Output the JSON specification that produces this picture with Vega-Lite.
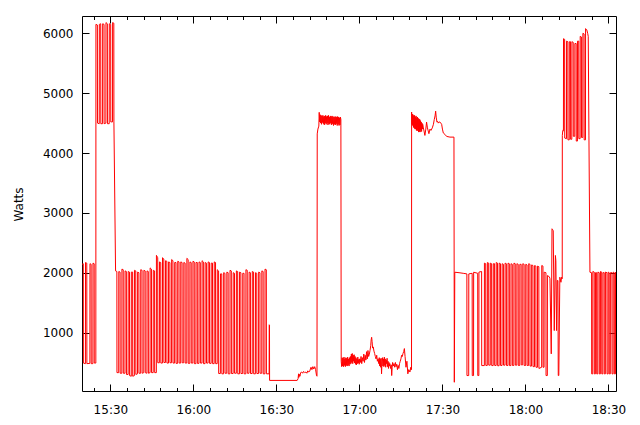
{
"$schema": "https://vega.github.io/schema/vega-lite/v6.json",
"width": 534,
"height": 375,
"autosize": {"type": "none"},
"padding": {"left": 82, "top": 16, "right": 24, "bottom": 34},
"background": "white",
"config": {
  "view": {"stroke": "black", "strokeWidth": 1},
  "axis": {"labelFont": "DejaVu Sans", "labelFontSize": 12, "labelColor": "black", "domain": false, "grid": false, "tickColor": "black", "tickWidth": 1, "titleFont": "DejaVu Sans", "titleFontSize": 12, "titleFontWeight": "normal", "titleColor": "black"}
},
"data": {"values": [
{"t":"2000-01-01T15:19:45Z","w":2140},{"t":"2000-01-01T15:20:12Z","w":2150},{"t":"2000-01-01T15:20:14Z","w":490},{"t":"2000-01-01T15:20:58Z","w":480},{"t":"2000-01-01T15:21:00Z","w":2170},{"t":"2000-01-01T15:21:28Z","w":2160},{"t":"2000-01-01T15:21:30Z","w":480},{"t":"2000-01-01T15:22:35Z","w":485},{"t":"2000-01-01T15:22:37Z","w":2150},{"t":"2000-01-01T15:23:02Z","w":2140},{"t":"2000-01-01T15:23:04Z","w":480},{"t":"2000-01-01T15:23:40Z","w":480},{"t":"2000-01-01T15:23:42Z","w":2160},{"t":"2000-01-01T15:24:08Z","w":2150},{"t":"2000-01-01T15:24:10Z","w":490},{"t":"2000-01-01T15:24:44Z","w":490},
{"t":"2000-01-01T15:24:46Z","w":6150},{"t":"2000-01-01T15:25:18Z","w":6140},{"t":"2000-01-01T15:25:20Z","w":4500},{"t":"2000-01-01T15:25:58Z","w":4490},{"t":"2000-01-01T15:26:00Z","w":6150},{"t":"2000-01-01T15:26:30Z","w":6160},{"t":"2000-01-01T15:26:32Z","w":4490},{"t":"2000-01-01T15:27:10Z","w":4490},{"t":"2000-01-01T15:27:12Z","w":6160},{"t":"2000-01-01T15:27:42Z","w":6150},{"t":"2000-01-01T15:27:44Z","w":4490},{"t":"2000-01-01T15:28:22Z","w":4500},{"t":"2000-01-01T15:28:24Z","w":6180},{"t":"2000-01-01T15:28:54Z","w":6160},{"t":"2000-01-01T15:28:56Z","w":4490},{"t":"2000-01-01T15:29:34Z","w":4490},{"t":"2000-01-01T15:29:36Z","w":6160},{"t":"2000-01-01T15:30:06Z","w":6150},{"t":"2000-01-01T15:30:08Z","w":4520},{"t":"2000-01-01T15:30:46Z","w":4520},{"t":"2000-01-01T15:30:48Z","w":6180},{"t":"2000-01-01T15:31:14Z","w":6170},{"t":"2000-01-01T15:31:16Z","w":4520},{"t":"2000-01-01T15:31:52Z","w":2030},
{"t":"2000-01-01T15:32:20Z","w":2020},{"t":"2000-01-01T15:32:22Z","w":330},{"t":"2000-01-01T15:33:00Z","w":330},{"t":"2000-01-01T15:33:02Z","w":2020},{"t":"2000-01-01T15:33:30Z","w":2010},{"t":"2000-01-01T15:33:32Z","w":320},{"t":"2000-01-01T15:34:08Z","w":320},{"t":"2000-01-01T15:34:10Z","w":2060},{"t":"2000-01-01T15:34:38Z","w":2050},{"t":"2000-01-01T15:34:40Z","w":320},{"t":"2000-01-01T15:35:16Z","w":320},{"t":"2000-01-01T15:35:18Z","w":2030},{"t":"2000-01-01T15:35:46Z","w":2020},{"t":"2000-01-01T15:35:48Z","w":300},{"t":"2000-01-01T15:36:24Z","w":300},{"t":"2000-01-01T15:36:26Z","w":2020},{"t":"2000-01-01T15:36:54Z","w":2010},{"t":"2000-01-01T15:36:56Z","w":280},{"t":"2000-01-01T15:37:32Z","w":270},{"t":"2000-01-01T15:37:34Z","w":2010},{"t":"2000-01-01T15:38:02Z","w":2010},{"t":"2000-01-01T15:38:04Z","w":270},{"t":"2000-01-01T15:38:40Z","w":280},{"t":"2000-01-01T15:38:42Z","w":2040},{"t":"2000-01-01T15:39:10Z","w":2030},{"t":"2000-01-01T15:39:12Z","w":300},{"t":"2000-01-01T15:39:48Z","w":310},{"t":"2000-01-01T15:39:50Z","w":2010},{"t":"2000-01-01T15:40:18Z","w":2000},{"t":"2000-01-01T15:40:20Z","w":320},{"t":"2000-01-01T15:40:56Z","w":320},{"t":"2000-01-01T15:40:58Z","w":2050},{"t":"2000-01-01T15:41:26Z","w":2040},{"t":"2000-01-01T15:41:28Z","w":320},{"t":"2000-01-01T15:42:04Z","w":330},{"t":"2000-01-01T15:42:06Z","w":2040},{"t":"2000-01-01T15:42:34Z","w":2030},{"t":"2000-01-01T15:42:36Z","w":330},{"t":"2000-01-01T15:43:12Z","w":320},{"t":"2000-01-01T15:43:14Z","w":2030},{"t":"2000-01-01T15:43:42Z","w":2020},{"t":"2000-01-01T15:43:44Z","w":320},{"t":"2000-01-01T15:44:20Z","w":330},{"t":"2000-01-01T15:44:22Z","w":2080},{"t":"2000-01-01T15:44:50Z","w":2060},{"t":"2000-01-01T15:44:52Z","w":330},{"t":"2000-01-01T15:45:28Z","w":330},{"t":"2000-01-01T15:45:30Z","w":2040},{"t":"2000-01-01T15:45:58Z","w":2030},{"t":"2000-01-01T15:46:00Z","w":330},{"t":"2000-01-01T15:46:36Z","w":330},
{"t":"2000-01-01T15:46:38Z","w":2290},{"t":"2000-01-01T15:47:06Z","w":2250},{"t":"2000-01-01T15:47:08Z","w":495},{"t":"2000-01-01T15:47:42Z","w":495},{"t":"2000-01-01T15:47:44Z","w":2180},{"t":"2000-01-01T15:48:12Z","w":2170},{"t":"2000-01-01T15:48:14Z","w":490},{"t":"2000-01-01T15:48:48Z","w":490},{"t":"2000-01-01T15:48:50Z","w":2250},{"t":"2000-01-01T15:49:18Z","w":2230},{"t":"2000-01-01T15:49:20Z","w":500},{"t":"2000-01-01T15:49:54Z","w":500},{"t":"2000-01-01T15:49:56Z","w":2200},{"t":"2000-01-01T15:50:24Z","w":2190},{"t":"2000-01-01T15:50:26Z","w":490},{"t":"2000-01-01T15:51:00Z","w":490},{"t":"2000-01-01T15:51:02Z","w":2180},{"t":"2000-01-01T15:51:30Z","w":2170},{"t":"2000-01-01T15:51:32Z","w":495},{"t":"2000-01-01T15:52:06Z","w":495},{"t":"2000-01-01T15:52:08Z","w":2220},{"t":"2000-01-01T15:52:36Z","w":2200},{"t":"2000-01-01T15:52:38Z","w":490},{"t":"2000-01-01T15:53:12Z","w":490},{"t":"2000-01-01T15:53:14Z","w":2170},{"t":"2000-01-01T15:53:42Z","w":2170},{"t":"2000-01-01T15:53:44Z","w":485},{"t":"2000-01-01T15:54:18Z","w":485},{"t":"2000-01-01T15:54:20Z","w":2190},{"t":"2000-01-01T15:54:48Z","w":2180},{"t":"2000-01-01T15:54:50Z","w":490},{"t":"2000-01-01T15:55:24Z","w":490},{"t":"2000-01-01T15:55:26Z","w":2180},{"t":"2000-01-01T15:55:54Z","w":2170},{"t":"2000-01-01T15:55:56Z","w":495},{"t":"2000-01-01T15:56:30Z","w":495},{"t":"2000-01-01T15:56:32Z","w":2170},{"t":"2000-01-01T15:57:00Z","w":2160},{"t":"2000-01-01T15:57:02Z","w":490},{"t":"2000-01-01T15:57:36Z","w":490},{"t":"2000-01-01T15:57:38Z","w":2240},{"t":"2000-01-01T15:58:06Z","w":2220},{"t":"2000-01-01T15:58:08Z","w":485},{"t":"2000-01-01T15:58:42Z","w":485},{"t":"2000-01-01T15:58:44Z","w":2180},{"t":"2000-01-01T15:59:12Z","w":2170},{"t":"2000-01-01T15:59:14Z","w":490},{"t":"2000-01-01T15:59:48Z","w":490},{"t":"2000-01-01T15:59:50Z","w":2190},{"t":"2000-01-01T16:00:18Z","w":2180},{"t":"2000-01-01T16:00:20Z","w":480},{"t":"2000-01-01T16:00:54Z","w":480},{"t":"2000-01-01T16:00:56Z","w":2170},{"t":"2000-01-01T16:01:24Z","w":2170},{"t":"2000-01-01T16:01:26Z","w":485},{"t":"2000-01-01T16:02:00Z","w":485},{"t":"2000-01-01T16:02:02Z","w":2180},{"t":"2000-01-01T16:02:30Z","w":2170},{"t":"2000-01-01T16:02:32Z","w":490},{"t":"2000-01-01T16:03:06Z","w":490},{"t":"2000-01-01T16:03:08Z","w":2200},{"t":"2000-01-01T16:03:36Z","w":2180},{"t":"2000-01-01T16:03:38Z","w":480},{"t":"2000-01-01T16:04:12Z","w":480},{"t":"2000-01-01T16:04:14Z","w":2170},{"t":"2000-01-01T16:04:42Z","w":2160},{"t":"2000-01-01T16:04:44Z","w":490},{"t":"2000-01-01T16:05:18Z","w":490},{"t":"2000-01-01T16:05:20Z","w":2180},{"t":"2000-01-01T16:05:48Z","w":2170},{"t":"2000-01-01T16:05:50Z","w":485},{"t":"2000-01-01T16:06:24Z","w":485},{"t":"2000-01-01T16:06:26Z","w":2160},{"t":"2000-01-01T16:06:54Z","w":2160},{"t":"2000-01-01T16:06:56Z","w":480},{"t":"2000-01-01T16:07:30Z","w":480},{"t":"2000-01-01T16:07:32Z","w":2180},{"t":"2000-01-01T16:08:00Z","w":2170},{"t":"2000-01-01T16:08:02Z","w":480},{"t":"2000-01-01T16:08:36Z","w":480},
{"t":"2000-01-01T16:08:38Z","w":2050},{"t":"2000-01-01T16:09:06Z","w":2030},{"t":"2000-01-01T16:09:08Z","w":315},{"t":"2000-01-01T16:09:45Z","w":315},{"t":"2000-01-01T16:09:47Z","w":1980},{"t":"2000-01-01T16:10:15Z","w":1980},{"t":"2000-01-01T16:10:17Z","w":310},{"t":"2000-01-01T16:10:54Z","w":310},{"t":"2000-01-01T16:10:56Z","w":2000},{"t":"2000-01-01T16:11:24Z","w":1990},{"t":"2000-01-01T16:11:26Z","w":320},{"t":"2000-01-01T16:12:03Z","w":320},{"t":"2000-01-01T16:12:05Z","w":2010},{"t":"2000-01-01T16:12:33Z","w":2000},{"t":"2000-01-01T16:12:35Z","w":310},{"t":"2000-01-01T16:13:12Z","w":310},{"t":"2000-01-01T16:13:14Z","w":2040},{"t":"2000-01-01T16:13:42Z","w":2030},{"t":"2000-01-01T16:13:44Z","w":315},{"t":"2000-01-01T16:14:21Z","w":315},{"t":"2000-01-01T16:14:23Z","w":2000},{"t":"2000-01-01T16:14:51Z","w":1990},{"t":"2000-01-01T16:14:53Z","w":320},{"t":"2000-01-01T16:15:30Z","w":320},{"t":"2000-01-01T16:15:32Z","w":2030},{"t":"2000-01-01T16:16:00Z","w":2020},{"t":"2000-01-01T16:16:02Z","w":310},{"t":"2000-01-01T16:16:39Z","w":310},{"t":"2000-01-01T16:16:41Z","w":2010},{"t":"2000-01-01T16:17:09Z","w":2000},{"t":"2000-01-01T16:17:11Z","w":315},{"t":"2000-01-01T16:17:48Z","w":315},{"t":"2000-01-01T16:17:50Z","w":1990},{"t":"2000-01-01T16:18:18Z","w":1990},{"t":"2000-01-01T16:18:20Z","w":310},{"t":"2000-01-01T16:18:57Z","w":310},{"t":"2000-01-01T16:18:59Z","w":2050},{"t":"2000-01-01T16:19:27Z","w":2040},{"t":"2000-01-01T16:19:29Z","w":320},{"t":"2000-01-01T16:20:06Z","w":320},{"t":"2000-01-01T16:20:08Z","w":2010},{"t":"2000-01-01T16:20:36Z","w":2000},{"t":"2000-01-01T16:20:38Z","w":315},{"t":"2000-01-01T16:21:15Z","w":315},{"t":"2000-01-01T16:21:17Z","w":2020},{"t":"2000-01-01T16:21:45Z","w":2010},{"t":"2000-01-01T16:21:47Z","w":310},{"t":"2000-01-01T16:22:24Z","w":310},{"t":"2000-01-01T16:22:26Z","w":2000},{"t":"2000-01-01T16:22:54Z","w":1990},{"t":"2000-01-01T16:22:56Z","w":315},{"t":"2000-01-01T16:23:33Z","w":315},{"t":"2000-01-01T16:23:35Z","w":2010},{"t":"2000-01-01T16:24:03Z","w":2000},{"t":"2000-01-01T16:24:05Z","w":320},{"t":"2000-01-01T16:24:42Z","w":320},{"t":"2000-01-01T16:24:44Z","w":2030},{"t":"2000-01-01T16:25:12Z","w":2020},{"t":"2000-01-01T16:25:14Z","w":310},{"t":"2000-01-01T16:25:51Z","w":310},{"t":"2000-01-01T16:25:53Z","w":2060},{"t":"2000-01-01T16:26:21Z","w":2050},{"t":"2000-01-01T16:26:23Z","w":310},{"t":"2000-01-01T16:27:22Z","w":310},{"t":"2000-01-01T16:27:24Z","w":1130},{"t":"2000-01-01T16:27:30Z","w":1120},{"t":"2000-01-01T16:27:32Z","w":200},{"t":"2000-01-01T16:37:30Z","w":200},
{"t":"2000-01-01T16:37:50Z","w":230},{"t":"2000-01-01T16:38:00Z","w":310},{"t":"2000-01-01T16:38:05Z","w":250},{"t":"2000-01-01T16:38:20Z","w":300},{"t":"2000-01-01T16:38:30Z","w":270},{"t":"2000-01-01T16:38:45Z","w":330},{"t":"2000-01-01T16:39:10Z","w":340},{"t":"2000-01-01T16:39:30Z","w":320},{"t":"2000-01-01T16:39:50Z","w":350},{"t":"2000-01-01T16:40:15Z","w":330},{"t":"2000-01-01T16:40:40Z","w":340},{"t":"2000-01-01T16:41:00Z","w":320},{"t":"2000-01-01T16:41:20Z","w":360},{"t":"2000-01-01T16:41:40Z","w":340},{"t":"2000-01-01T16:42:00Z","w":350},{"t":"2000-01-01T16:42:30Z","w":420},{"t":"2000-01-01T16:42:50Z","w":380},{"t":"2000-01-01T16:43:10Z","w":430},{"t":"2000-01-01T16:43:30Z","w":390},{"t":"2000-01-01T16:43:50Z","w":430},{"t":"2000-01-01T16:44:10Z","w":380},{"t":"2000-01-01T16:44:30Z","w":280},{"t":"2000-01-01T16:44:40Z","w":270},{"t":"2000-01-01T16:44:45Z","w":4320},{"t":"2000-01-01T16:45:00Z","w":4400},{"t":"2000-01-01T16:45:20Z","w":4450},
{"t":"2000-01-01T16:45:28Z","w":4680},{"t":"2000-01-01T16:45:38Z","w":4520},{"t":"2000-01-01T16:45:48Z","w":4640},{"t":"2000-01-01T16:45:58Z","w":4500},{"t":"2000-01-01T16:46:08Z","w":4630},{"t":"2000-01-01T16:46:18Z","w":4480},{"t":"2000-01-01T16:46:28Z","w":4620},{"t":"2000-01-01T16:46:38Z","w":4510},{"t":"2000-01-01T16:46:48Z","w":4630},{"t":"2000-01-01T16:46:58Z","w":4490},{"t":"2000-01-01T16:47:08Z","w":4610},{"t":"2000-01-01T16:47:18Z","w":4470},{"t":"2000-01-01T16:47:28Z","w":4620},{"t":"2000-01-01T16:47:38Z","w":4500},{"t":"2000-01-01T16:47:48Z","w":4630},{"t":"2000-01-01T16:47:58Z","w":4480},{"t":"2000-01-01T16:48:08Z","w":4610},{"t":"2000-01-01T16:48:18Z","w":4500},{"t":"2000-01-01T16:48:28Z","w":4620},{"t":"2000-01-01T16:48:38Z","w":4470},{"t":"2000-01-01T16:48:48Z","w":4630},{"t":"2000-01-01T16:48:58Z","w":4490},{"t":"2000-01-01T16:49:08Z","w":4600},{"t":"2000-01-01T16:49:18Z","w":4480},{"t":"2000-01-01T16:49:28Z","w":4620},{"t":"2000-01-01T16:49:38Z","w":4500},{"t":"2000-01-01T16:49:48Z","w":4610},{"t":"2000-01-01T16:49:58Z","w":4470},{"t":"2000-01-01T16:50:08Z","w":4620},{"t":"2000-01-01T16:50:18Z","w":4490},{"t":"2000-01-01T16:50:28Z","w":4600},{"t":"2000-01-01T16:50:38Z","w":4460},{"t":"2000-01-01T16:50:48Z","w":4610},{"t":"2000-01-01T16:50:58Z","w":4480},{"t":"2000-01-01T16:51:08Z","w":4600},{"t":"2000-01-01T16:51:18Z","w":4470},{"t":"2000-01-01T16:51:28Z","w":4610},{"t":"2000-01-01T16:51:38Z","w":4490},{"t":"2000-01-01T16:51:48Z","w":4600},{"t":"2000-01-01T16:51:58Z","w":4460},{"t":"2000-01-01T16:52:08Z","w":4610},{"t":"2000-01-01T16:52:18Z","w":4480},{"t":"2000-01-01T16:52:28Z","w":4600},{"t":"2000-01-01T16:52:38Z","w":4460},{"t":"2000-01-01T16:52:48Z","w":4590},{"t":"2000-01-01T16:52:58Z","w":4470},{"t":"2000-01-01T16:53:08Z","w":4600},{"t":"2000-01-01T16:53:18Z","w":4560},
{"t":"2000-01-01T16:53:25Z","w":520},{"t":"2000-01-01T16:53:35Z","w":430},{"t":"2000-01-01T16:53:45Z","w":580},{"t":"2000-01-01T16:53:55Z","w":440},{"t":"2000-01-01T16:54:05Z","w":570},{"t":"2000-01-01T16:54:15Z","w":430},{"t":"2000-01-01T16:54:25Z","w":590},{"t":"2000-01-01T16:54:35Z","w":450},{"t":"2000-01-01T16:54:45Z","w":560},{"t":"2000-01-01T16:54:55Z","w":430},{"t":"2000-01-01T16:55:05Z","w":580},{"t":"2000-01-01T16:55:15Z","w":450},{"t":"2000-01-01T16:55:25Z","w":570},{"t":"2000-01-01T16:55:35Z","w":440},{"t":"2000-01-01T16:55:45Z","w":590},{"t":"2000-01-01T16:55:55Z","w":460},{"t":"2000-01-01T16:56:05Z","w":560},{"t":"2000-01-01T16:56:15Z","w":440},{"t":"2000-01-01T16:56:25Z","w":580},{"t":"2000-01-01T16:56:35Z","w":470},{"t":"2000-01-01T16:56:45Z","w":600},{"t":"2000-01-01T16:56:55Z","w":480},{"t":"2000-01-01T16:57:05Z","w":640},{"t":"2000-01-01T16:57:15Z","w":500},{"t":"2000-01-01T16:57:25Z","w":650},{"t":"2000-01-01T16:57:35Z","w":480},{"t":"2000-01-01T16:57:45Z","w":620},{"t":"2000-01-01T16:57:55Z","w":520},{"t":"2000-01-01T16:58:05Z","w":630},{"t":"2000-01-01T16:58:15Z","w":490},{"t":"2000-01-01T16:58:25Z","w":600},{"t":"2000-01-01T16:58:35Z","w":470},{"t":"2000-01-01T16:58:45Z","w":580},{"t":"2000-01-01T16:58:55Z","w":460},{"t":"2000-01-01T16:59:05Z","w":560},{"t":"2000-01-01T16:59:15Z","w":480},{"t":"2000-01-01T16:59:25Z","w":590},{"t":"2000-01-01T16:59:35Z","w":490},{"t":"2000-01-01T16:59:45Z","w":550},{"t":"2000-01-01T16:59:55Z","w":470},{"t":"2000-01-01T17:00:05Z","w":560},{"t":"2000-01-01T17:00:20Z","w":500},{"t":"2000-01-01T17:00:35Z","w":600},{"t":"2000-01-01T17:00:50Z","w":480},{"t":"2000-01-01T17:01:05Z","w":580},{"t":"2000-01-01T17:01:20Z","w":520},{"t":"2000-01-01T17:01:35Z","w":640},{"t":"2000-01-01T17:01:50Z","w":500},{"t":"2000-01-01T17:02:05Z","w":620},{"t":"2000-01-01T17:02:20Z","w":540},{"t":"2000-01-01T17:02:35Z","w":680},{"t":"2000-01-01T17:02:50Z","w":560},{"t":"2000-01-01T17:03:05Z","w":700},{"t":"2000-01-01T17:03:20Z","w":600},{"t":"2000-01-01T17:03:35Z","w":640},{"t":"2000-01-01T17:03:50Z","w":700},{"t":"2000-01-01T17:04:05Z","w":780},{"t":"2000-01-01T17:04:15Z","w":880},{"t":"2000-01-01T17:04:25Z","w":921},{"t":"2000-01-01T17:04:35Z","w":850},{"t":"2000-01-01T17:04:45Z","w":740},{"t":"2000-01-01T17:05:00Z","w":760},{"t":"2000-01-01T17:05:15Z","w":690},{"t":"2000-01-01T17:05:30Z","w":650},{"t":"2000-01-01T17:05:45Z","w":600},{"t":"2000-01-01T17:06:00Z","w":560},{"t":"2000-01-01T17:06:15Z","w":620},{"t":"2000-01-01T17:06:30Z","w":520},{"t":"2000-01-01T17:06:45Z","w":560},{"t":"2000-01-01T17:07:00Z","w":480},{"t":"2000-01-01T17:07:10Z","w":580},{"t":"2000-01-01T17:07:20Z","w":440},{"t":"2000-01-01T17:07:30Z","w":560},{"t":"2000-01-01T17:07:40Z","w":420},{"t":"2000-01-01T17:07:50Z","w":570},{"t":"2000-01-01T17:08:00Z","w":310},{"t":"2000-01-01T17:08:10Z","w":520},{"t":"2000-01-01T17:08:20Z","w":580},{"t":"2000-01-01T17:08:30Z","w":440},{"t":"2000-01-01T17:08:40Z","w":560},{"t":"2000-01-01T17:08:50Z","w":430},{"t":"2000-01-01T17:09:00Z","w":590},{"t":"2000-01-01T17:09:10Z","w":450},{"t":"2000-01-01T17:09:20Z","w":560},{"t":"2000-01-01T17:09:30Z","w":420},{"t":"2000-01-01T17:09:40Z","w":540},{"t":"2000-01-01T17:09:50Z","w":480},{"t":"2000-01-01T17:10:00Z","w":570},{"t":"2000-01-01T17:10:10Z","w":430},{"t":"2000-01-01T17:10:20Z","w":520},{"t":"2000-01-01T17:10:30Z","w":400},{"t":"2000-01-01T17:10:40Z","w":500},{"t":"2000-01-01T17:10:50Z","w":440},{"t":"2000-01-01T17:11:00Z","w":480},{"t":"2000-01-01T17:11:15Z","w":400},{"t":"2000-01-01T17:11:30Z","w":460},{"t":"2000-01-01T17:11:40Z","w":281},{"t":"2000-01-01T17:11:50Z","w":420},{"t":"2000-01-01T17:12:00Z","w":500},{"t":"2000-01-01T17:12:15Z","w":440},{"t":"2000-01-01T17:12:30Z","w":480},{"t":"2000-01-01T17:12:45Z","w":420},{"t":"2000-01-01T17:13:00Z","w":500},{"t":"2000-01-01T17:13:15Z","w":430},{"t":"2000-01-01T17:13:30Z","w":470},{"t":"2000-01-01T17:13:45Z","w":380},{"t":"2000-01-01T17:14:00Z","w":450},{"t":"2000-01-01T17:14:15Z","w":400},{"t":"2000-01-01T17:14:30Z","w":480},{"t":"2000-01-01T17:14:45Z","w":520},{"t":"2000-01-01T17:15:00Z","w":560},{"t":"2000-01-01T17:15:15Z","w":620},{"t":"2000-01-01T17:15:30Z","w":600},{"t":"2000-01-01T17:15:45Z","w":650},{"t":"2000-01-01T17:16:00Z","w":680},{"t":"2000-01-01T17:16:15Z","w":732},{"t":"2000-01-01T17:16:30Z","w":600},{"t":"2000-01-01T17:16:50Z","w":420},{"t":"2000-01-01T17:17:10Z","w":520},{"t":"2000-01-01T17:17:30Z","w":310},{"t":"2000-01-01T17:17:50Z","w":380},{"t":"2000-01-01T17:18:15Z","w":340},{"t":"2000-01-01T17:18:35Z","w":420},{"t":"2000-01-01T17:18:50Z","w":380},
{"t":"2000-01-01T17:18:52Z","w":4684},{"t":"2000-01-01T17:19:00Z","w":4480},{"t":"2000-01-01T17:19:08Z","w":4650},{"t":"2000-01-01T17:19:16Z","w":4460},{"t":"2000-01-01T17:19:24Z","w":4640},{"t":"2000-01-01T17:19:32Z","w":4430},{"t":"2000-01-01T17:19:40Z","w":4620},{"t":"2000-01-01T17:19:48Z","w":4420},{"t":"2000-01-01T17:19:56Z","w":4630},{"t":"2000-01-01T17:20:04Z","w":4400},{"t":"2000-01-01T17:20:12Z","w":4600},{"t":"2000-01-01T17:20:20Z","w":4400},{"t":"2000-01-01T17:20:28Z","w":4620},{"t":"2000-01-01T17:20:36Z","w":4380},{"t":"2000-01-01T17:20:44Z","w":4590},{"t":"2000-01-01T17:20:52Z","w":4370},{"t":"2000-01-01T17:21:00Z","w":4600},{"t":"2000-01-01T17:21:08Z","w":4380},{"t":"2000-01-01T17:21:16Z","w":4580},{"t":"2000-01-01T17:21:24Z","w":4350},{"t":"2000-01-01T17:21:32Z","w":4570},{"t":"2000-01-01T17:21:40Z","w":4360},{"t":"2000-01-01T17:21:48Z","w":4560},{"t":"2000-01-01T17:21:56Z","w":4350},{"t":"2000-01-01T17:22:04Z","w":4540},{"t":"2000-01-01T17:22:12Z","w":4380},{"t":"2000-01-01T17:22:20Z","w":4520},{"t":"2000-01-01T17:22:28Z","w":4360},{"t":"2000-01-01T17:22:36Z","w":4500},{"t":"2000-01-01T17:22:44Z","w":4400},{"t":"2000-01-01T17:22:52Z","w":4480},{"t":"2000-01-01T17:23:04Z","w":4433},
{"t":"2000-01-01T17:23:40Z","w":4294},{"t":"2000-01-01T17:24:00Z","w":4400},{"t":"2000-01-01T17:24:16Z","w":4517},{"t":"2000-01-01T17:24:35Z","w":4420},{"t":"2000-01-01T17:25:07Z","w":4323},{"t":"2000-01-01T17:25:30Z","w":4400},{"t":"2000-01-01T17:25:51Z","w":4378},{"t":"2000-01-01T17:26:20Z","w":4420},{"t":"2000-01-01T17:26:45Z","w":4480},{"t":"2000-01-01T17:27:03Z","w":4560},{"t":"2000-01-01T17:27:20Z","w":4620},{"t":"2000-01-01T17:27:33Z","w":4700},{"t":"2000-01-01T17:27:45Z","w":4600},{"t":"2000-01-01T17:28:01Z","w":4517},{"t":"2000-01-01T17:28:15Z","w":4530},{"t":"2000-01-01T17:28:30Z","w":4500},{"t":"2000-01-01T17:28:50Z","w":4520},{"t":"2000-01-01T17:29:06Z","w":4517},{"t":"2000-01-01T17:29:25Z","w":4500},{"t":"2000-01-01T17:29:43Z","w":4480},{"t":"2000-01-01T17:30:00Z","w":4400},{"t":"2000-01-01T17:30:19Z","w":4335},{"t":"2000-01-01T17:30:55Z","w":4311},{"t":"2000-01-01T17:31:31Z","w":4278},{"t":"2000-01-01T17:32:43Z","w":4266},{"t":"2000-01-01T17:34:10Z","w":4266},{"t":"2000-01-01T17:34:18Z","w":169},{"t":"2000-01-01T17:34:28Z","w":2008},{"t":"2000-01-01T17:36:00Z","w":2000},{"t":"2000-01-01T17:37:30Z","w":1990},{"t":"2000-01-01T17:38:50Z","w":1980},{"t":"2000-01-01T17:38:52Z","w":281},{"t":"2000-01-01T17:39:30Z","w":281},{"t":"2000-01-01T17:39:32Z","w":1980},{"t":"2000-01-01T17:40:45Z","w":1990},{"t":"2000-01-01T17:40:47Z","w":281},{"t":"2000-01-01T17:41:15Z","w":281},{"t":"2000-01-01T17:41:17Z","w":2008},{"t":"2000-01-01T17:42:45Z","w":1990},{"t":"2000-01-01T17:42:47Z","w":281},{"t":"2000-01-01T17:43:10Z","w":281},{"t":"2000-01-01T17:43:12Z","w":2010},{"t":"2000-01-01T17:44:10Z","w":2020},{"t":"2000-01-01T17:44:12Z","w":448},
{"t":"2000-01-01T17:45:09Z","w":448},{"t":"2000-01-01T17:45:11Z","w":2160},{"t":"2000-01-01T17:45:39Z","w":2150},{"t":"2000-01-01T17:45:41Z","w":450},{"t":"2000-01-01T17:46:13Z","w":450},{"t":"2000-01-01T17:46:15Z","w":2170},{"t":"2000-01-01T17:46:43Z","w":2160},{"t":"2000-01-01T17:46:45Z","w":455},{"t":"2000-01-01T17:47:17Z","w":455},{"t":"2000-01-01T17:47:19Z","w":2160},{"t":"2000-01-01T17:47:47Z","w":2150},{"t":"2000-01-01T17:47:49Z","w":448},{"t":"2000-01-01T17:48:21Z","w":448},{"t":"2000-01-01T17:48:23Z","w":2150},{"t":"2000-01-01T17:48:51Z","w":2150},{"t":"2000-01-01T17:48:53Z","w":450},{"t":"2000-01-01T17:49:25Z","w":450},{"t":"2000-01-01T17:49:27Z","w":2170},{"t":"2000-01-01T17:49:55Z","w":2160},{"t":"2000-01-01T17:49:57Z","w":445},{"t":"2000-01-01T17:50:29Z","w":445},{"t":"2000-01-01T17:50:31Z","w":2160},{"t":"2000-01-01T17:50:59Z","w":2150},{"t":"2000-01-01T17:51:01Z","w":450},{"t":"2000-01-01T17:51:33Z","w":450},{"t":"2000-01-01T17:51:35Z","w":2150},{"t":"2000-01-01T17:52:03Z","w":2140},{"t":"2000-01-01T17:52:05Z","w":455},{"t":"2000-01-01T17:52:37Z","w":455},{"t":"2000-01-01T17:52:39Z","w":2160},{"t":"2000-01-01T17:53:07Z","w":2150},{"t":"2000-01-01T17:53:09Z","w":450},{"t":"2000-01-01T17:53:41Z","w":450},{"t":"2000-01-01T17:53:43Z","w":2160},{"t":"2000-01-01T17:54:11Z","w":2150},{"t":"2000-01-01T17:54:13Z","w":448},{"t":"2000-01-01T17:54:45Z","w":448},{"t":"2000-01-01T17:54:47Z","w":2150},{"t":"2000-01-01T17:55:15Z","w":2140},{"t":"2000-01-01T17:55:17Z","w":450},{"t":"2000-01-01T17:55:49Z","w":450},{"t":"2000-01-01T17:55:51Z","w":2160},{"t":"2000-01-01T17:56:19Z","w":2150},{"t":"2000-01-01T17:56:21Z","w":455},{"t":"2000-01-01T17:56:53Z","w":455},{"t":"2000-01-01T17:56:55Z","w":2150},{"t":"2000-01-01T17:57:23Z","w":2140},{"t":"2000-01-01T17:57:25Z","w":450},{"t":"2000-01-01T17:57:57Z","w":450},{"t":"2000-01-01T17:57:59Z","w":2140},{"t":"2000-01-01T17:58:27Z","w":2140},{"t":"2000-01-01T17:58:29Z","w":460},{"t":"2000-01-01T17:59:01Z","w":460},{"t":"2000-01-01T17:59:03Z","w":2150},{"t":"2000-01-01T17:59:31Z","w":2140},{"t":"2000-01-01T17:59:33Z","w":450},{"t":"2000-01-01T18:00:05Z","w":450},{"t":"2000-01-01T18:00:07Z","w":2140},{"t":"2000-01-01T18:00:35Z","w":2130},{"t":"2000-01-01T18:00:37Z","w":450},{"t":"2000-01-01T18:01:09Z","w":450},{"t":"2000-01-01T18:01:11Z","w":2150},{"t":"2000-01-01T18:01:39Z","w":2140},{"t":"2000-01-01T18:01:41Z","w":440},{"t":"2000-01-01T18:02:13Z","w":440},{"t":"2000-01-01T18:02:15Z","w":2130},{"t":"2000-01-01T18:02:43Z","w":2120},{"t":"2000-01-01T18:02:45Z","w":430},{"t":"2000-01-01T18:03:17Z","w":430},{"t":"2000-01-01T18:03:19Z","w":2120},{"t":"2000-01-01T18:03:47Z","w":2110},{"t":"2000-01-01T18:03:49Z","w":420},{"t":"2000-01-01T18:04:21Z","w":420},{"t":"2000-01-01T18:04:23Z","w":2110},{"t":"2000-01-01T18:04:51Z","w":2100},{"t":"2000-01-01T18:04:53Z","w":400},
{"t":"2000-01-01T18:05:52Z","w":420},{"t":"2000-01-01T18:05:54Z","w":2120},{"t":"2000-01-01T18:06:20Z","w":2110},{"t":"2000-01-01T18:06:22Z","w":420},{"t":"2000-01-01T18:06:44Z","w":420},{"t":"2000-01-01T18:06:46Z","w":2008},{"t":"2000-01-01T18:07:25Z","w":2000},{"t":"2000-01-01T18:07:27Z","w":281},{"t":"2000-01-01T18:07:55Z","w":281},{"t":"2000-01-01T18:07:57Z","w":1953},{"t":"2000-01-01T18:08:40Z","w":1930},{"t":"2000-01-01T18:08:52Z","w":1900},{"t":"2000-01-01T18:09:20Z","w":644},{"t":"2000-01-01T18:09:36Z","w":2734},{"t":"2000-01-01T18:09:50Z","w":2720},{"t":"2000-01-01T18:10:03Z","w":2700},{"t":"2000-01-01T18:10:25Z","w":1033},{"t":"2000-01-01T18:10:50Z","w":2288},{"t":"2000-01-01T18:11:00Z","w":2200},{"t":"2000-01-01T18:11:15Z","w":1033},{"t":"2000-01-01T18:11:30Z","w":1870},{"t":"2000-01-01T18:11:45Z","w":1870},{"t":"2000-01-01T18:11:52Z","w":281},{"t":"2000-01-01T18:12:04Z","w":281},{"t":"2000-01-01T18:12:26Z","w":1925},{"t":"2000-01-01T18:12:50Z","w":1840},{"t":"2000-01-01T18:13:04Z","w":1925},{"t":"2000-01-01T18:13:18Z","w":1900},
{"t":"2000-01-01T18:13:20Z","w":4294},{"t":"2000-01-01T18:13:30Z","w":4378},{"t":"2000-01-01T18:13:44Z","w":4370},{"t":"2000-01-01T18:13:46Z","w":5911},{"t":"2000-01-01T18:14:10Z","w":5900},{"t":"2000-01-01T18:14:12Z","w":4250},{"t":"2000-01-01T18:14:50Z","w":4240},{"t":"2000-01-01T18:14:52Z","w":5870},{"t":"2000-01-01T18:15:20Z","w":5860},{"t":"2000-01-01T18:15:22Z","w":4220},{"t":"2000-01-01T18:15:50Z","w":4220},{"t":"2000-01-01T18:15:52Z","w":5860},{"t":"2000-01-01T18:16:18Z","w":5860},{"t":"2000-01-01T18:16:20Z","w":4230},{"t":"2000-01-01T18:16:46Z","w":4230},{"t":"2000-01-01T18:16:48Z","w":5860},{"t":"2000-01-01T18:17:16Z","w":5850},{"t":"2000-01-01T18:17:18Z","w":4280},{"t":"2000-01-01T18:17:50Z","w":4280},{"t":"2000-01-01T18:17:52Z","w":5830},{"t":"2000-01-01T18:18:20Z","w":5830},{"t":"2000-01-01T18:18:22Z","w":4200},{"t":"2000-01-01T18:18:48Z","w":4200},{"t":"2000-01-01T18:18:50Z","w":5870},{"t":"2000-01-01T18:19:16Z","w":5870},{"t":"2000-01-01T18:19:18Z","w":4240},{"t":"2000-01-01T18:19:46Z","w":4240},{"t":"2000-01-01T18:19:48Z","w":5950},{"t":"2000-01-01T18:20:14Z","w":5940},{"t":"2000-01-01T18:20:16Z","w":4260},{"t":"2000-01-01T18:20:44Z","w":4260},{"t":"2000-01-01T18:20:46Z","w":6000},{"t":"2000-01-01T18:21:12Z","w":5990},{"t":"2000-01-01T18:21:14Z","w":4220},{"t":"2000-01-01T18:21:42Z","w":4220},{"t":"2000-01-01T18:21:44Z","w":6079},{"t":"2000-01-01T18:22:10Z","w":6060},{"t":"2000-01-01T18:22:30Z","w":6000},{"t":"2000-01-01T18:22:42Z","w":5950},{"t":"2000-01-01T18:22:57Z","w":4300},{"t":"2000-01-01T18:23:19Z","w":2008},
{"t":"2000-01-01T18:23:55Z","w":2000},{"t":"2000-01-01T18:23:57Z","w":309},{"t":"2000-01-01T18:24:20Z","w":309},{"t":"2000-01-01T18:24:22Z","w":2020},{"t":"2000-01-01T18:24:52Z","w":2010},{"t":"2000-01-01T18:24:54Z","w":309},{"t":"2000-01-01T18:25:17Z","w":309},{"t":"2000-01-01T18:25:19Z","w":2000},{"t":"2000-01-01T18:25:44Z","w":2000},{"t":"2000-01-01T18:25:46Z","w":309},{"t":"2000-01-01T18:26:09Z","w":309},{"t":"2000-01-01T18:26:11Z","w":2010},{"t":"2000-01-01T18:26:40Z","w":2000},{"t":"2000-01-01T18:26:42Z","w":309},{"t":"2000-01-01T18:27:05Z","w":309},{"t":"2000-01-01T18:27:07Z","w":2020},{"t":"2000-01-01T18:27:34Z","w":2010},{"t":"2000-01-01T18:27:36Z","w":309},{"t":"2000-01-01T18:27:59Z","w":309},{"t":"2000-01-01T18:28:01Z","w":2000},{"t":"2000-01-01T18:28:28Z","w":2000},{"t":"2000-01-01T18:28:30Z","w":309},{"t":"2000-01-01T18:28:53Z","w":309},{"t":"2000-01-01T18:28:55Z","w":2010},{"t":"2000-01-01T18:29:28Z","w":2000},{"t":"2000-01-01T18:29:30Z","w":309},{"t":"2000-01-01T18:29:53Z","w":309},{"t":"2000-01-01T18:29:55Z","w":2010},{"t":"2000-01-01T18:30:16Z","w":2000},{"t":"2000-01-01T18:30:18Z","w":309},{"t":"2000-01-01T18:30:41Z","w":309},{"t":"2000-01-01T18:30:43Z","w":2000},{"t":"2000-01-01T18:31:16Z","w":2000},{"t":"2000-01-01T18:31:18Z","w":309},{"t":"2000-01-01T18:31:41Z","w":309},{"t":"2000-01-01T18:31:43Z","w":2010},{"t":"2000-01-01T18:32:07Z","w":2000},{"t":"2000-01-01T18:32:09Z","w":309},{"t":"2000-01-01T18:32:32Z","w":309},{"t":"2000-01-01T18:32:34Z","w":2010},{"t":"2000-01-01T18:32:44Z","w":2000}
]},
"layer": [
  {
    "mark": {"type": "line", "color": "#ff0000", "strokeWidth": 1, "clip": true},
    "encoding": {
      "x": {"field": "t", "type": "temporal",
        "scale": {"type": "utc", "domain": [946739984000, 946751564000], "nice": false},
        "axis": {"orient": "bottom", "title": null, "values": [946740600000, 946742400000, 946744200000, 946746000000, 946747800000, 946749600000, 946751400000], "format": "%H:%M",
          "tickSize": -7, "labelPadding": 20, "labelOverlap": false, "labelFlush": false}},
      "y": {"field": "w", "type": "quantitative",
        "scale": {"domain": [23, 6290], "nice": false, "zero": false},
        "axis": {"orient": "left", "values": [1000, 2000, 3000, 4000, 5000, 6000], "format": "d", "tickSize": -7, "labelPadding": 16,
          "title": "Watts", "titleAngle": -90, "titleX": -64, "titleY": 188, "titleAlign": "center", "titleBaseline": "middle"}}
    }
  },
  {
    "data": {"values": [{"t": "2000-01-01T16:00:00Z", "w": 3000}]},
    "mark": {"type": "point", "opacity": 0},
    "encoding": {
      "x": {"field": "t", "type": "temporal",
        "axis": {"orient": "bottom", "title": null, "labels": false, "tickSize": -3.5, "values": [946740240000, 946740600000, 946740960000, 946741320000, 946741680000, 946742040000, 946742400000, 946742760000, 946743120000, 946743480000, 946743840000, 946744200000, 946744560000, 946744920000, 946745280000, 946745640000, 946746000000, 946746360000, 946746720000, 946747080000, 946747440000, 946747800000, 946748160000, 946748520000, 946748880000, 946749240000, 946749600000, 946749960000, 946750320000, 946750680000, 946751040000, 946751400000]}},
      "y": {"field": "w", "type": "quantitative",
        "axis": {"orient": "right", "title": null, "labels": false, "values": [1000, 2000, 3000, 4000, 5000, 6000], "tickSize": -7}}
    }
  },
  {
    "data": {"values": [{"t": "2000-01-01T16:00:00Z", "w": 3000}]},
    "mark": {"type": "point", "opacity": 0},
    "encoding": {
      "x": {"field": "t", "type": "temporal",
        "axis": {"orient": "top", "title": null, "labels": false, "tickSize": -7, "values": [946740600000, 946742400000, 946744200000, 946746000000, 946747800000, 946749600000, 946751400000]}},
      "y": {"field": "w", "type": "quantitative", "axis": null}
    }
  },
  {
    "data": {"values": [{"t": "2000-01-01T16:00:00Z", "w": 3000}]},
    "mark": {"type": "point", "opacity": 0},
    "encoding": {
      "x": {"field": "t", "type": "temporal",
        "axis": {"orient": "top", "title": null, "labels": false, "tickSize": -3.5, "values": [946740240000, 946740600000, 946740960000, 946741320000, 946741680000, 946742040000, 946742400000, 946742760000, 946743120000, 946743480000, 946743840000, 946744200000, 946744560000, 946744920000, 946745280000, 946745640000, 946746000000, 946746360000, 946746720000, 946747080000, 946747440000, 946747800000, 946748160000, 946748520000, 946748880000, 946749240000, 946749600000, 946749960000, 946750320000, 946750680000, 946751040000, 946751400000]}},
      "y": {"field": "w", "type": "quantitative", "axis": null}
    }
  }
],
"resolve": {"axis": {"x": "independent", "y": "independent"}}
}
